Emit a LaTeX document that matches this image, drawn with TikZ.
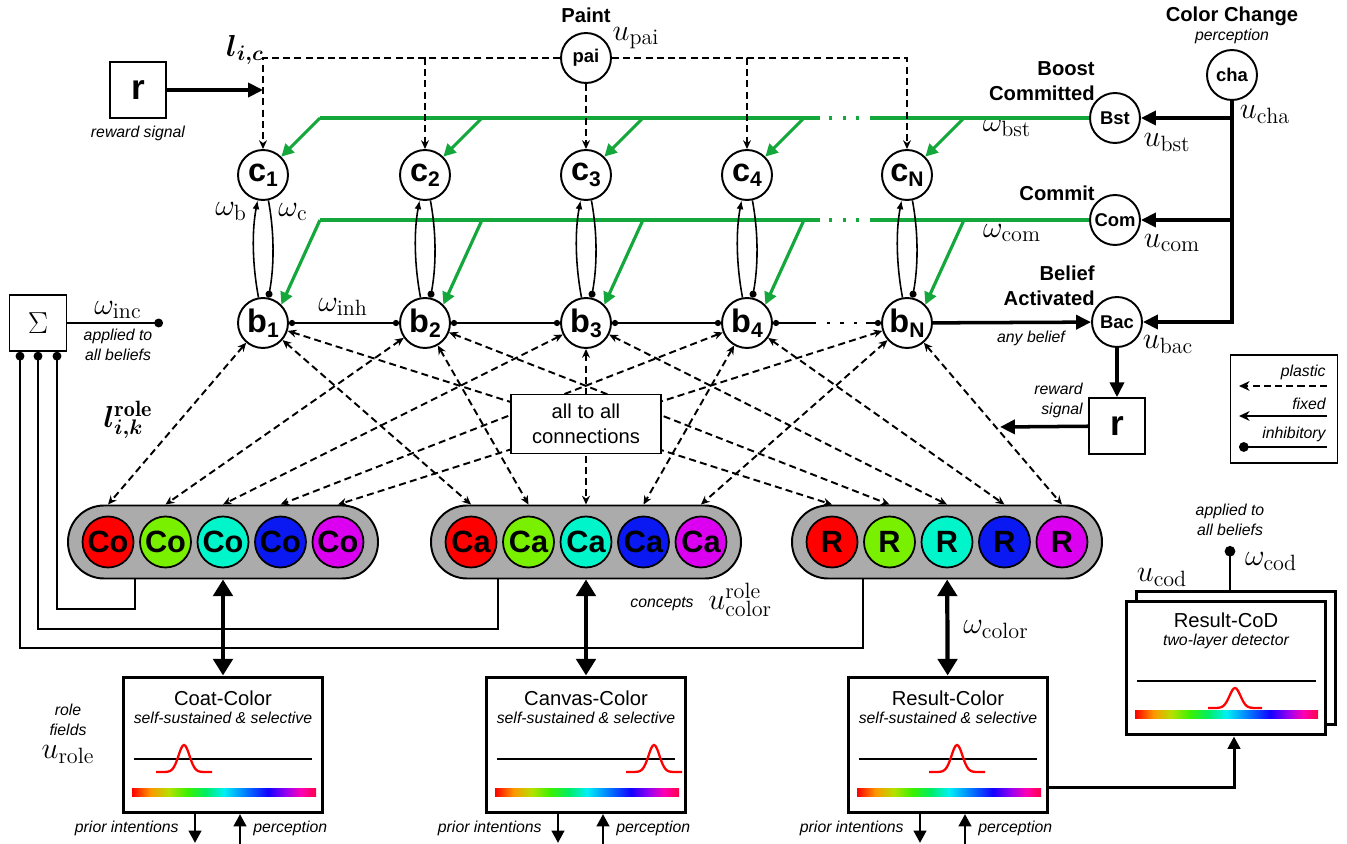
\documentclass[tikz,border=0pt]{standalone}
\usepackage{fontspec}
\setsansfont{Liberation Sans}
\usepackage{bm}
\usetikzlibrary{arrows.meta,positioning,calc}

\definecolor{cred}{HTML}{FF0000}
\definecolor{cgreen}{HTML}{78F000}
\definecolor{ccyan}{HTML}{00F5CA}
\definecolor{cblue}{HTML}{0A19F2}
\definecolor{cmag}{HTML}{DC00F0}
\definecolor{poolgray}{HTML}{ABABAB}
\definecolor{gline}{HTML}{14A83C}
\definecolor{rb0}{HTML}{FF0000}
\definecolor{rb1}{HTML}{FF9600}
\definecolor{rb2}{HTML}{B4E100}
\definecolor{rb3}{HTML}{3CF000}
\definecolor{rb4}{HTML}{00EE64}
\definecolor{rb5}{HTML}{00F0F5}
\definecolor{rb6}{HTML}{0078FF}
\definecolor{rb7}{HTML}{1400FF}
\definecolor{rb8}{HTML}{9B00F0}
\definecolor{rb9}{HTML}{FF00B4}
\definecolor{rb10}{HTML}{FF0046}
\pgfdeclarehorizontalshading{rainbow}{100bp}{color(0bp)=(rb0); color(25bp)=(rb0);
  color(30bp)=(rb1); color(35bp)=(rb2); color(40bp)=(rb3); color(45bp)=(rb4);
  color(50bp)=(rb5); color(56bp)=(rb6); color(62bp)=(rb7); color(67bp)=(rb8);
  color(71bp)=(rb9); color(75bp)=(rb10); color(100bp)=(rb10)}

\newcommand{\nsub}[2]{#1\raisebox{-3pt}{\fontsize{12}{12}\selectfont#2}}

\tikzset{
  neuron/.style={circle, draw, line width=1.1pt, fill=white, minimum size=1cm,
    inner sep=0pt, font=\sffamily\bfseries\fontsize{18.5}{18.5}\selectfont},
  group/.style={neuron, font=\sffamily\bfseries\fontsize{10.5}{10.5}\selectfont},
  concept/.style={neuron, line width=1pt, minimum size=1.02cm,
    font=\sffamily\bfseries\fontsize{17.5}{17.5}\selectfont},
  pool/.style={draw, line width=1.1pt, fill=poolgray, rounded corners=.72cm,
    minimum width=6.2cm, minimum height=1.46cm},
  field/.style={draw, line width=1.7pt, fill=white, minimum width=4cm, minimum height=2.72cm},
  sqbox/.style={draw, line width=.9pt, fill=white, minimum size=1.12cm, inner sep=0pt},
  title/.style={font=\sffamily\bfseries\fontsize{11.5}{14.5}\selectfont, inner sep=0pt, align=right},
  ftitle/.style={font=\sffamily\fontsize{11.5}{14}\selectfont, inner sep=0pt},
  note/.style={font=\sffamily\itshape\fontsize{9}{11.3}\selectfont, inner sep=0pt},
  lab/.style={font=\fontsize{18}{18}\selectfont, inner sep=0pt},
  plastic/.style={line width=1.1pt, dash pattern=on 4pt off 2.4pt,
    {Stealth[length=5pt,width=4.5pt]}-{Stealth[length=5pt,width=4.5pt]}},
  topdash/.style={line width=1.1pt, dash pattern=on 4pt off 2.4pt,
    -{Stealth[length=5pt,width=4.5pt]}},
  fixedarr/.style={line width=2pt, -{Triangle[length=8.5pt,width=8pt]}},
  inarr/.style={line width=1.7pt, -{Triangle[length=7pt,width=7pt]}},
  bigboth/.style={line width=2.4pt,
    {Triangle[length=9.5pt,width=11pt]}-{Triangle[length=9.5pt,width=11pt]}},
  greenline/.style={line width=1.8pt, draw=gline},
  greenarr/.style={greenline, -{Triangle[length=7pt,width=7pt]}},
  thinarr/.style={line width=.9pt, -{Latex[length=5pt,width=4pt]}},
  thininh/.style={line width=.9pt, -{Circle[length=4pt]}},
  inhboth/.style={line width=.9pt, {Circle[length=3.5pt]}-{Circle[length=3.5pt]}},
  sumline/.style={line width=1pt, {Circle[length=5pt]}-},
  dotgap/.style={dash pattern=on 1.8pt off 6pt, dash phase=1.8pt},
  bump/.style={draw=red, line width=1.3pt},
}

\begin{document}
\begin{tikzpicture}[x=0.02cm, y=-0.02cm]
\useasboundingbox (0,0) rectangle (1347,844);

\node[group] (pai) at (586,58) {pai};
\node[group] (cha) at (1232,75) {cha};
\node[group] (bst) at (1115,118) {Bst};
\node[group] (com) at (1115,220) {Com};
\node[group] (bac) at (1117,322) {Bac};
\foreach \x/\n in {263/1,425/2,586/3,747/4,907/N}{
  \node[neuron] (c\n) at (\x,175) {\nsub{c}{\n}};
  \node[neuron] (b\n) at (\x,323) {\nsub{b}{\n}};
}
\node[sqbox, font=\sffamily\bfseries\fontsize{20}{20}\selectfont] (rw1) at (138,90) {r};
\node[sqbox, font=\sffamily\bfseries\fontsize{20}{20}\selectfont] (rw2) at (1117,426) {r};
\node[sqbox, minimum width=1.14cm, font=\fontsize{19}{19}\selectfont] (sig) at (38,323) {$\Sigma$};

\node[title] at (586,15) {Paint};
\node[title] at (1232,16) {Color Change};
\node[note] at (1232,36) {perception};
\node[title, anchor=east] at (1095,81) {Boost\\Committed};
\node[title, anchor=east] at (1095,193) {Commit};
\node[title, anchor=east] at (1095,286) {Belief\\Activated};

\node[lab] at (636,38) {$u_{\mathrm{pai}}$};
\node[lab] at (1265,115) {$u_{\mathrm{cha}}$};
\node[lab] at (1167,143) {$u_{\mathrm{bst}}$};
\node[lab] at (1172,243) {$u_{\mathrm{com}}$};
\node[lab] at (1168,345) {$u_{\mathrm{bac}}$};
\node[lab] at (1007,128) {$\omega_{\mathrm{bst}}$};
\node[lab] at (1012,233) {$\omega_{\mathrm{com}}$};
\node[lab] at (231,212) {$\omega_{\mathrm{b}}$};
\node[lab] at (293,212) {$\omega_{\mathrm{c}}$};
\node[lab] at (343,307) {$\omega_{\mathrm{inh}}$};
\node[lab] at (245,50) {$\bm{l_{i,c}}$};
\node[lab] at (128,420) {$\bm{l^{\mathrm{role}}_{i,k}}$};

\coordinate (gt0) at (320,118);
\coordinate (gt1) at (820,118);
\coordinate (gt2) at (870,118);
\coordinate (gm0) at (320,220);
\coordinate (gm1) at (820,220);
\coordinate (gm2) at (870,220);
\draw[greenline] (bst) -- (gt2);
\draw[greenline, dotgap] (gt2) -- (gt1);
\draw[greenline] (gt1) -- (gt0);
\draw[greenline] (com) -- (gm2);
\draw[greenline, dotgap] (gm2) -- (gm1);
\draw[greenline] (gm1) -- (gm0);
\foreach \n in {1,2,3,4,N}{
  \draw[greenarr] ($(c\n |- gt0)+(57,0)$) -- (c\n.north east);
  \draw[greenarr] ($(b\n |- gm0)+(57,0)$) -- (b\n.north east);
  \draw[thinarr] (b\n.100) .. controls +(-6,-32) and +(-6,32) .. (c\n.258);
  \draw[thininh] (c\n.282) .. controls +(6,32) and +(6,-32) .. (b\n.78);
}

\draw[topdash] (pai) -| (c1);
\draw[topdash] (pai) -| (c2);
\draw[topdash] (pai) -- (c3);
\draw[topdash] (pai) -| (c4);
\draw[topdash] (pai) -| (cN);
\draw[fixedarr] (rw1) -- (rw1 -| c1);
\node[note] at (138,133) {reward signal};

\foreach \pa/\pb in {b1/b2,b2/b3,b3/b4} \draw[inhboth] (\pa) -- (\pb);
\path (b4) -- (bN) coordinate[pos=.4] (d1) coordinate[pos=.86] (d2);
\draw[line width=.9pt, {Circle[length=3.5pt]}-] (b4) -- (d1);
\draw[line width=.9pt, dotgap] (d1) -- (d2);
\draw[line width=.9pt, -{Circle[length=3.5pt]}] (d2) -- (bN);

\draw[fixedarr] (cha) |- (bac);
\draw[fixedarr] (cha |- bst) -- (bst);
\draw[fixedarr] (cha |- com) -- (com);
\draw[fixedarr] (bN) -- (bac) node[note, pos=.62, below=4pt] {any belief};
\draw[fixedarr] (bac) -- (rw2);
\coordinate (rwout) at (1000,427);
\draw[fixedarr] (rw2) -- (rwout);
\node[note, align=right, anchor=east] at (1083,400) {reward\\signal};

\coordinate (incend) at (163,323);
\draw[line width=1.1pt, -{Circle[length=5pt]}] (sig) -- (incend);
\node[lab] at (118,310) {$\omega_{\mathrm{inc}}$};
\node[note, align=center] at (118,345) {applied to\\all beliefs};

\node[pool] (copool) at (223,542) {};
\node[pool] (capool) at (586,542) {};
\node[pool] (repool) at (947,542) {};
\foreach \pre/\lbl in {co/Co,ca/Ca,re/R}
  \foreach \col [count=\k] in {cred,cgreen,ccyan,cblue,cmag}
    \node[concept, fill=\col] (\pre\k) at ([xshift={(\k-3)*1.15cm}]\pre pool.center) {\lbl};

\foreach \bn [count=\k] in {b1,b2,b3,b4,bN}
  \foreach \pre in {co,ca,re}
    \draw[plastic] (\bn) -- (\pre\k |- \pre pool.north);

\node[sqbox, minimum width=3cm, minimum height=1.18cm, align=center,
  font=\sffamily\fontsize{11.5}{14}\selectfont] (all) at (586,424) {all to all\\connections};

\node[field] (coat) at (223,745) {};
\node[field] (canvas) at (586,745) {};
\node[field] (result) at (948,745) {};
\draw[bigboth] (copool) -- (coat);
\draw[bigboth] (capool) -- (canvas);
\draw[bigboth] (repool) -- (result);

\coordinate (coin) at ([xshift=-1.76cm]copool.south);
\coordinate (cain) at ([xshift=-1.76cm]capool.south);
\coordinate (rein) at ([xshift=-1.68cm]repool.south);
\draw[sumline] ([xshift=.38cm]sig.south) |- ([yshift=-.59cm]coin) -- (coin);
\draw[sumline] (sig.south) |- ([yshift=-.99cm]cain) -- (cain);
\draw[sumline] ([xshift=-.36cm]sig.south) |- ([yshift=-1.37cm]rein) -- (rein);

\node[lab] at (996,630) {$\omega_{\mathrm{color}}$};
\node[note, anchor=east] at (694,604) {concepts};
\node[lab, anchor=west] at (708,600) {$u^{\mathrm{role}}_{\mathrm{color}}$};
\node[note, align=center] at (68,720) {role\\fields};
\node[lab] at (68,755) {$u_{\mathrm{role}}$};

\foreach \fld/\lbl/\pk in {coat/Coat-Color/-39, canvas/Canvas-Color/68, result/Result-Color/9}{
  \begin{scope}[shift={(\fld.center)}]
    \node[ftitle] at (0,-47) {\lbl};
    \node[note] at (0,-27) {self-sustained \& selective};
    \draw[line width=1.1pt] (-89,14) -- (89,14);
    \draw[bump] plot[domain=-28:28, samples=41, smooth] ({\pk+(\x)},{27-27*exp(-((\x)^2)/60)});
    \shade[shading=rainbow] (-91,44) rectangle (93,52);
    \draw[inarr] (-28,68) -- (-28,98);
    \draw[inarr] (17,99) -- (17,69);
    \node[note, anchor=east] at (-44,83) {prior intentions};
    \node[note, anchor=west] at (30,83) {perception};
  \end{scope}
}

\node[field, minimum height=2.68cm] (codback) at (1236,658) {};
\node[field, minimum height=2.68cm] (cod) at (1226,668) {};
\begin{scope}[shift={(cod.center)}]
  \node[ftitle] at (0,-48) {Result-CoD};
  \node[note] at (0,-27) {two-layer detector};
  \draw[line width=1.1pt] (-89,13) -- (90,13);
  \draw[bump] plot[domain=-27:27, samples=41, smooth] ({9+(\x)},{40-20*exp(-((\x)^2)/60)});
  \shade[shading=rainbow] (-91,43) rectangle (92,51);
\end{scope}
\draw[inarr] ([yshift=-.86cm]result.east) -| ([xshift=.16cm]cod.south);
\coordinate (codin) at (1230,546);
\draw[line width=1.4pt, {Circle[length=6pt]}-] (codin) -- (codin |- codback.north);
\node[lab] at (1271,562) {$\omega_{\mathrm{cod}}$};
\node[lab] at (1162,578) {$u_{\mathrm{cod}}$};
\node[note, align=center] at (1230,520) {applied to\\all beliefs};

\node[sqbox, minimum width=2.14cm, minimum height=2.16cm] (legend) at (1284,409) {};
\begin{scope}[shift={(legend.center)}]
  \node[note, anchor=east] at (42,-37) {plastic};
  \draw[line width=1.1pt, dash pattern=on 4pt off 2.4pt, -{Stealth[length=6pt,width=5.5pt]}] (43,-23) -- (-45,-23);
  \node[note, anchor=east] at (42,-5) {fixed};
  \draw[line width=1.1pt, -{Stealth[length=6pt,width=5.5pt]}] (43,7) -- (-45,7);
  \node[note, anchor=east] at (42,25) {inhibitory};
  \draw[line width=1.1pt, -{Circle[length=5.5pt]}] (43,38) -- (-45,38);
\end{scope}
\end{tikzpicture}
\end{document}
